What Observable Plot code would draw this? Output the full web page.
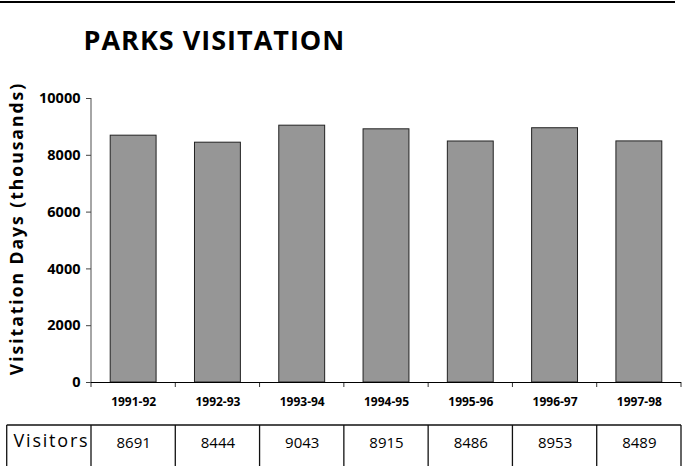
<!DOCTYPE html>
<html><head><meta charset="utf-8">
<script src="https://cdn.jsdelivr.net/npm/d3@7"></script>
<script src="https://cdn.jsdelivr.net/npm/@observablehq/plot@0.6"></script>
<style>
html,body{margin:0;padding:0;background:#fff}
#chart{position:relative;width:682px;height:466px;overflow:hidden;font-family:'Open Sans',sans-serif;background:#fff}
#topline{position:absolute;left:0;top:1px;width:675px;border-top:2px solid #000;z-index:2}
#chart svg{position:absolute;left:0;top:0}
</style></head><body>
<div id="chart"><div id="topline"></div></div>
<script>
const title = "PARKS VISITATION";
const yLabel = "Visitation Days (thousands)";
const rowLabel = "Visitors";
const years = ["1991-92", "1992-93", "1993-94", "1994-95", "1995-96", "1996-97", "1997-98"];
const visitors = [8691, 8444, 9043, 8915, 8486, 8953, 8489];
const yTicks = [0, 2000, 4000, 6000, 8000, 10000];

const data = years.map((year, i) => ({year, value: visitors[i]}));

function spaced(px) {
  return (index, scales, values, dimensions, context, next) => {
    const g = next(index, scales, values, dimensions, context);
    if (g) g.style.letterSpacing = px;
    return g;
  };
}

function gridLines(index, scales, values, dimensions) {
  const x = scales.x;
  const step = typeof x.step === "function" ? x.step() : scales.scales.x.step;
  const {marginLeft, marginTop, marginBottom, height} = dimensions;
  const y0 = height - marginBottom;
  const g = d3.create("svg:g");
  // y axis line
  g.append("line").attr("x1", marginLeft).attr("x2", marginLeft)
    .attr("y1", marginTop).attr("y2", y0).attr("stroke", "#888").attr("stroke-width", 1.5);
  // category boundary ticks
  const edges = [...years.map(d => x(d)), x(years[years.length - 1]) + step];
  g.append("g").selectAll("line").data(edges).join("line")
    .attr("x1", d => d).attr("x2", d => d).attr("y1", y0).attr("y2", y0 + 5)
    .attr("stroke", "#333");
  // data table grid
  const tEdges = [x(years[0]) - step, ...edges];
  const top = y0 + 43, bottom = height + 10;
  g.append("line").attr("x1", tEdges[0]).attr("x2", tEdges[tEdges.length - 1])
    .attr("y1", top).attr("y2", top).attr("stroke", "#111").attr("stroke-width", 1.3);
  g.append("g").selectAll("line").data(tEdges).join("line")
    .attr("x1", d => d).attr("x2", d => d).attr("y1", top).attr("y2", bottom)
    .attr("stroke", "#111").attr("stroke-width", 1.3);
  return g.node();
}

const plot = Plot.plot({
  width: 682,
  height: 466,
  marginTop: 98,
  marginBottom: 84,
  marginLeft: 91,
  marginRight: 1,
  style: {fontFamily: "'Open Sans', sans-serif", background: "white", overflow: "visible", color: "#000"},
  x: {domain: years, padding: 0, round: false, axis: null},
  y: {domain: [0, 10000], axis: null},
  marks: [
    Plot.barY(data, {x: "year", y: "value", fill: "#969696", stroke: "#222", strokeWidth: 1, insetLeft: 19.2, insetRight: 19.2}),
    gridLines,
    Plot.ruleY([0], {stroke: "#000", strokeWidth: 1.2}),
    Plot.axisY({ticks: yTicks, tickSize: 5, tickPadding: 6, tickFormat: d3.format("d"), fontSize: 14.5, fontWeight: "bold", label: null, stroke: "#444"}),
    Plot.axisX({tickSize: 0, tickPadding: 15, fontSize: 12, fontWeight: "bold", label: null}),
    Plot.text([yLabel], {frameAnchor: "left", textAnchor: "middle", lineAnchor: "middle", rotate: -90, dx: -74, dy: -12, fontSize: 17.5, fontWeight: "bold", fill: "#000", render: spaced("2px")}),
    Plot.text([title], {frameAnchor: "top-left", textAnchor: "start", lineAnchor: "bottom", dx: -8, dy: -49, fontSize: 27, fontWeight: "bold", fill: "#000", render: spaced("1px")}),
    Plot.text(data, {x: "year", text: d => String(d.value), frameAnchor: "bottom", dy: 65, fontSize: 15, fill: "#000"}),
    Plot.text([rowLabel], {frameAnchor: "bottom-left", textAnchor: "start", dx: -78, dy: 64, fontSize: 18, fill: "#000", render: spaced("1.8px")})
  ]
});
document.getElementById("chart").appendChild(plot);
</script>
</body></html>
